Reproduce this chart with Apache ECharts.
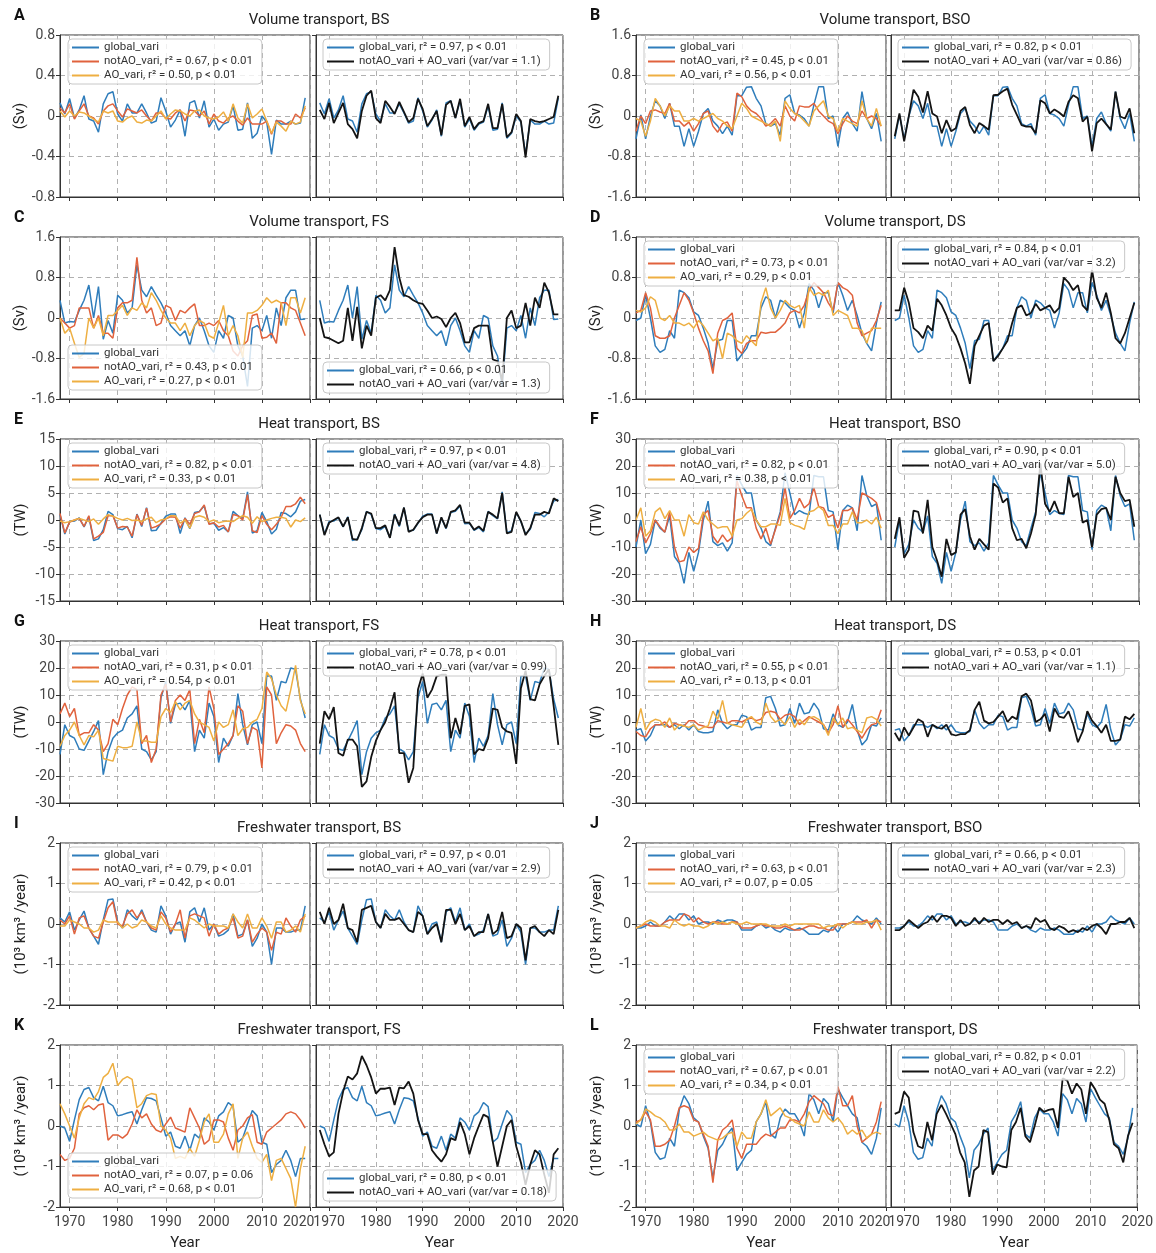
<!DOCTYPE html>
<html>
<head>
<meta charset="utf-8">
<script src="https://cdn.jsdelivr.net/npm/echarts@6/dist/echarts.min.js"></script>
<style>
  html, body { margin: 0; padding: 0; background: #fff; }
  #chart { width: 1156px; height: 1253px; }
</style>
</head>
<body>
<div id="chart"></div>
<script>
// years of the annual series
const years = [1968,1969,1970,1971,1972,1973,1974,1975,1976,1977,1978,1979,
  1980,1981,1982,1983,1984,1985,1986,1987,1988,1989,
  1990,1991,1992,1993,1994,1995,1996,1997,1998,1999,
  2000,2001,2002,2003,2004,2005,2006,2007,2008,2009,
  2010,2011,2012,2013,2014,2015,2016,2017,2018,2019];
const decadeTicks = [1970, 1980, 1990, 2000, 2010, 2020];

// A: volume transport, BS (Sv)
const A_global = [0.13,0.02,0.17,-0.02,0.06,0.2,-0.03,-0.05,-0.16,0.12,0.22,0.24, 0.02,-0.05,0.12,0.03,0.03,0.12,0.03,-0.07,-0.05,0.18, 0.05,-0.11,-0.04,0.06,-0.2,0.13,0.15,-0.02,0.15,-0.11, -0.03,-0.14,-0.08,-0.06,0.1,-0.14,-0.13,0.13,-0.22,-0.17, 0.0,-0.06,-0.38,-0.04,-0.08,-0.08,-0.05,-0.08,-0.07,0.18];
const A_notAO = [0.08,0.03,0.12,-0.03,0.05,0.12,0.0,-0.02,-0.08,0.05,0.1,0.12, 0.05,-0.01,0.07,0.05,0.03,0.06,0.0,-0.05,0.03,0.03, -0.02,-0.03,0.03,0.06,-0.05,0.06,0.05,0.0,0.05,-0.08, 0.02,-0.05,-0.07,-0.02,0.0,-0.05,-0.09,-0.02,-0.08,-0.08, -0.08,-0.05,-0.18,-0.05,-0.05,-0.08,-0.08,0.02,-0.02,0.08];
const A_AO = [0.05,-0.01,0.05,0.0,0.04,0.03,0.0,-0.03,-0.06,0.05,0.03,0.05, -0.05,-0.06,-0.02,0.0,-0.06,-0.07,-0.04,-0.05,0.0,0.05, -0.03,0.02,0.06,0.05,0.02,0.0,0.05,0.06,0.0,-0.02, -0.03,-0.01,0.04,-0.05,0.12,-0.02,-0.07,0.12,-0.02,0.02, 0.07,-0.05,-0.17,-0.06,-0.1,-0.15,-0.05,-0.08,-0.06,0.1];
const A_sum = [0.06,-0.03,0.13,-0.07,0.03,0.13,-0.08,-0.13,-0.22,0.05,0.2,0.25, -0.02,-0.07,0.15,0.09,0.02,0.14,0.04,-0.06,-0.02,0.17, 0.07,-0.1,-0.03,0.05,-0.19,0.11,0.15,-0.02,0.17,-0.1, -0.01,-0.13,-0.07,-0.05,0.12,-0.12,-0.12,0.12,-0.21,-0.16, 0.02,-0.05,-0.41,-0.03,-0.05,-0.06,-0.05,-0.03,-0.01,0.2];

// B: volume transport, BSO (Sv)
const B_global = [-0.45,0.02,-0.45,0.0,0.3,0.2,-0.05,0.25,-0.2,-0.2,-0.6,-0.25, -0.6,-0.3,0.05,0.15,-0.1,-0.2,-0.35,-0.2,-0.38,0.4, 0.4,0.57,0.58,0.35,0.2,-0.15,-0.2,-0.15,-0.38,0.35, 0.42,0.05,0.02,-0.05,-0.2,0.22,0.58,0.58,-0.05,0.0, -0.6,-0.05,0.08,-0.15,-0.3,0.48,-0.05,-0.25,0.05,-0.5];
const B_notAO = [-0.3,0.0,-0.15,0.1,0.12,0.08,0.05,0.25,-0.1,-0.1,-0.2,-0.12, -0.3,-0.15,0.05,0.1,-0.2,-0.32,-0.15,-0.12,-0.3,0.45, 0.38,0.2,0.1,0.05,-0.05,-0.2,-0.15,-0.05,-0.2,0.2, 0.0,-0.1,0.2,0.18,0.18,0.25,0.1,0.0,-0.1,-0.15, -0.35,-0.15,0.0,-0.1,-0.15,0.1,-0.05,0.0,-0.05,-0.2];
const B_AO = [-0.05,-0.1,-0.4,-0.1,0.35,0.2,0.0,0.2,0.1,0.1,-0.1,-0.1, -0.05,-0.1,-0.05,0.0,0.05,-0.05,-0.1,-0.2,-0.25,0.0, 0.25,0.15,0.0,-0.05,-0.1,-0.15,-0.2,-0.1,-0.5,0.3, 0.15,0.05,0.0,-0.1,-0.2,0.1,0.2,0.3,0.0,-0.05, -0.3,-0.05,-0.1,-0.15,-0.2,0.3,-0.05,-0.2,0.15,-0.2];
const B_sum = [-0.4,0.05,-0.5,0.0,0.52,0.38,0.07,0.49,0.05,-0.01,-0.34,-0.08, -0.3,-0.24,0.1,0.18,-0.18,-0.34,-0.14,-0.2,-0.27,0.41, 0.42,0.49,0.54,0.22,0.02,-0.18,-0.21,-0.21,-0.34,0.31, 0.25,0.05,0.13,0.07,-0.01,0.28,0.41,0.35,-0.11,-0.01, -0.7,-0.14,-0.05,-0.16,-0.27,0.48,-0.01,-0.05,0.15,-0.34];

// C: volume transport, FS (Sv)
const C_global = [0.35,-0.1,-0.07,-0.08,0.15,0.35,0.65,0.0,0.62,-0.42,-0.05,-0.3, 0.45,0.35,0.1,0.2,1.05,0.55,0.42,0.62,0.45,0.3, 0.1,-0.15,-0.25,-0.35,-0.25,-0.55,-0.15,0.0,-0.25,-0.55, -0.68,-0.25,-0.4,0.05,0.0,-0.55,-0.75,-1.35,-0.2,-0.15, -0.25,0.05,-0.4,0.2,-0.15,0.4,0.55,0.55,-0.03,-0.02];
const C_notAO = [0.0,-0.1,-0.2,-0.15,0.2,0.2,0.2,-0.2,0.05,-0.3,-0.3,-0.4, 0.2,0.3,0.3,0.35,1.2,0.35,0.1,0.2,-0.15,-0.1, 0.25,0.2,-0.05,0.15,0.1,0.2,0.28,-0.15,-0.15,-0.1, -0.15,-0.05,-0.25,-0.35,-0.65,-0.75,-0.55,-0.45,0.05,0.08, -0.4,-0.38,-0.3,-0.5,0.3,0.3,0.2,0.15,-0.1,-0.35];
const C_AO = [0.0,-0.3,-0.2,-0.5,-0.78,-0.7,0.0,-0.2,0.0,-0.35,0.05,0.05, 0.15,0.25,0.05,0.2,0.15,0.3,0.2,0.5,0.35,0.15, 0.0,-0.1,-0.1,-0.25,-0.1,-0.35,-0.15,-0.05,-0.1,-0.35, -0.4,-0.1,0.25,-0.35,-0.15,-0.35,-0.78,0.1,0.1,0.15, 0.25,0.4,0.3,0.35,0.3,-0.15,0.4,0.4,0.1,0.4];
const C_sum = [0.0,-0.38,-0.4,-0.45,-0.5,-0.45,0.2,-0.45,0.22,-0.6,-0.15,-0.35, 0.4,0.45,0.35,0.55,1.4,0.8,0.45,0.42,0.35,0.3, 0.28,0.15,0.0,0.03,-0.02,-0.18,0.0,0.1,-0.1,-0.48, -0.48,-0.2,-0.15,-0.15,-0.15,-0.82,-0.85,-1.25,0.0,0.15, -0.2,-0.15,0.3,-0.15,0.4,0.2,0.7,0.5,0.07,0.07];

// D: volume transport, DS (Sv)
const D_global = [-0.05,0.0,0.45,0.0,-0.55,-0.68,-0.62,-0.25,-0.4,0.55,0.5,0.4, 0.12,0.05,-0.2,-0.5,-1.0,-0.45,-0.42,-0.05,-0.05,-0.85, -0.72,-0.6,-0.35,-0.35,0.2,0.42,0.35,0.0,0.35,0.3, 0.2,0.15,-0.2,0.1,0.68,0.55,0.2,0.5,0.5,0.1, 0.7,0.45,0.15,0.35,0.05,-0.3,-0.5,-0.65,-0.1,0.32];
const D_notAO = [0.1,0.15,0.5,0.2,-0.35,-0.4,-0.4,-0.35,0.0,0.25,0.5,0.35, 0.1,-0.2,-0.45,-0.65,-1.1,-0.3,-0.05,0.0,0.1,-0.6, -0.7,-0.5,-0.45,-0.45,-0.28,-0.3,-0.28,-0.28,-0.2,-0.1, 0.1,0.15,0.1,0.25,0.55,0.7,0.6,0.5,0.3,0.15, 0.7,0.6,0.55,0.45,-0.1,-0.35,-0.3,-0.25,-0.05,0.25];
const D_AO = [0.15,0.12,0.2,0.42,0.35,0.0,-0.05,0.05,-0.1,-0.1,-0.15,-0.1, -0.2,-0.05,-0.15,-0.3,-0.45,-0.4,-0.8,-0.3,-0.35,-0.45, -0.5,-0.35,-0.45,-0.55,0.3,0.6,0.2,0.0,0.15,0.35, 0.25,0.2,0.25,-0.2,0.6,0.45,0.5,0.45,0.55,0.05, 0.15,0.1,0.05,-0.2,-0.2,-0.25,-0.5,-0.2,-0.2,-0.2];
const D_sum = [0.15,0.15,0.6,0.3,-0.2,-0.28,-0.4,-0.15,-0.25,0.38,0.25,0.05, -0.2,-0.35,-0.6,-0.9,-1.3,-0.55,-0.35,-0.15,-0.1,-0.85, -0.75,-0.6,-0.45,-0.1,0.2,0.25,0.05,0.1,0.28,0.15, 0.2,0.25,0.1,0.2,0.8,0.7,0.55,0.65,0.25,0.15, 0.95,0.4,0.2,0.5,0.1,-0.4,-0.5,-0.3,0.0,0.3];

// E: heat transport, BS (TW)
const E_global = [1.0,-2.6,-0.3,-0.2,0.4,-1.3,0.6,-3.8,-3.5,-1.8,1.6,1.0, -1.6,-1.8,-1.2,-3.3,1.1,-1.2,2.3,-2.0,-1.9,-0.6, 0.7,1.1,1.1,-2.5,0.4,-1.6,1.4,1.6,2.6,-0.7, -0.6,-1.9,-1.4,-2.2,1.6,0.8,0.2,5.2,-2.4,-2.0, 1.4,-0.3,-2.6,-1.7,1.4,1.2,0.6,1.5,3.5,3.8];
const E_notAO = [1.2,-2.4,-0.4,0.0,0.3,-1.2,0.8,-3.5,-3.0,-2.3,0.8,0.8, -1.5,-1.2,-1.3,-3.0,1.0,-1.0,2.2,-1.5,-1.2,-0.7, 0.2,0.6,0.5,-1.5,0.3,-0.8,1.2,1.5,2.8,-0.8, -0.5,-1.3,-1.0,-2.2,1.0,0.8,0.0,4.7,-2.0,-2.3, 0.8,-0.8,-1.8,-0.8,0.5,2.5,2.5,3.0,4.2,3.0];
const E_AO = [-0.2,-0.5,-0.3,0.0,0.3,0.0,-0.3,0.2,-0.8,0.2,1.0,0.7, 0.3,0.0,0.3,-0.1,0.0,-0.3,0.2,0.5,-0.5,0.0, 0.2,0.8,0.8,-0.6,0.0,-1.5,0.5,0.8,0.5,-0.3, 0.0,-0.5,-0.3,-0.2,-0.3,0.3,0.8,0.5,-0.6,0.6, -0.3,0.0,0.3,0.5,0.5,0.3,-1.3,0.0,-0.3,0.4];
const E_sum = [1.0,-2.8,-0.5,0.0,0.5,-1.2,0.5,-3.5,-3.7,-1.5,1.5,1.2, -1.5,-1.5,-1.0,-3.3,1.0,-1.0,2.3,-2.2,-1.8,-0.5, 0.5,1.0,1.0,-2.5,0.5,-1.5,1.5,1.8,2.8,-0.5, -0.5,-1.8,-1.2,-2.0,1.5,1.0,0.3,5.0,-2.5,-2.2, 1.5,-0.2,-2.8,-1.5,1.0,1.0,1.5,1.2,4.0,3.5];

// F: heat transport, BSO (TW)
const F_global = [-10,0,-12.5,-9,0,-3,-4.5,1.5,-13.5,-16,-23.5,-12, -19,-12,0,7,-8,-9.5,-8.5,-11.5,-8.5,16.5, 13,10,10,0,-3,-8,-9.5,-3,3,17.5, 10,2,3.5,2.5,2,16.5,16,16,3.5,3, -11,3.5,5.5,4.5,-4,16.5,9,5,6,-7.5];
const F_notAO = [-8,-2.5,-8.5,-5,0,-2.5,-4.5,3,-10,-15.5,-15,-10, -12,-10.5,2,3.5,-6,-8.5,-5.5,-8,-6.5,14.5, 9,4.5,4.5,-3,-7,-3,-9,-3.5,2,12, 0.5,3.5,8,4.5,6,12,5,4.5,1,2, -3,3.5,3.5,4.5,0,10,9,8,6.5,0];
const F_AO = [0,4.5,-6,-4,3,4.5,0.5,3.5,0,0,-6,2, -1,-1.5,3,0,-1.5,-3,-2.5,-2.5,-6,0, 0.5,2.5,4,0,-2.5,-2.5,-1.5,-1.5,-2,8, -1,-2,-2.5,-3.5,3,3.5,5,3.5,-2,-2, -5,-1.5,-1.5,3,-1,-1,0,-1.5,1,-3];
const F_sum = [-7,1,-14,-11,3.5,3,-5,7.5,-10,-15,-21,-7, -13,-12,2,4,-6,-11,-7,-9,-11,13.5, 12,6.5,8,-3,-7.5,-7,-10.5,-5,2,21, 6,3,7,2.5,2.5,16,8.5,10,-1,0, -10,2,4,4.5,0,16,10,7,7.5,-2.5];

// G: heat transport, FS (TW)
const G_global = [-12,-1,-5,-6,-10,-10.5,-7,-3.5,0.5,-19.5,-11,-6, -4,-3,1.5,3,6,-10,-11,-14,-11,9, 15,-0.5,6.5,7,4.5,8,-11,-3,-6,7, 2,-15,-6,-9,-5,10.5,-1,-8.5,-1,0, -8,17,17,8,15,14.5,20,19.5,8.5,1.5];
const G_notAO = [3,7,2,5,-5,-4,-4,-1,-3,-11,-8,1, -1,5,10,13,12,-8,-5,-15,-10,10, 14,0,8,10,8,12,-8,1,-4,13, 5,-12,-10,-8,-5,6,4,-8,-2,-3, -17,13,10,-8,-4,-1,-1.5,-3,-8,-11];
const G_AO = [-9,-5,-3,0,-5,-8.5,-5,-5.5,-3,-13.5,-14,-14.5, -9,-9.5,-9.5,-9,0,-7,-7,-7.5,-7.5,2, 5,3.5,7.5,4.5,7,8,3,0,-1,-2, -7,0,-2,-1,4.5,-5,-2.5,-2,0,1, 5,18.5,16,10,6,4,12,21,8,3];
const G_sum = [-8,4,1,5.5,-11.5,-12.5,-6.5,-6.5,-9,-24,-22,-13, -7,-3,0,5,11,-11.5,-11.5,-22.5,-17,12, 18,9,12,17,17.5,17.5,-6,1.5,-4.5,6, 6.5,-12,-10,-10.5,-6,5,4.5,-2,-3.5,-4, -15.5,12.5,19,8.5,8,14,17,19.5,6,-8.5];

// H: heat transport, DS (TW)
const H_global = [-3,-2.5,-7,-5,-1,-1,-1,-2,-1,-2.5,-1,-3, -1,-3.5,-4,-4,-3.5,4.5,-0.5,-2.5,-1,-1, 2.5,2,-3,-2,-2,9,9.5,5,-1.5,-1, 5,-0.5,7,3,3.5,7,4.5,-2.5,-3,3, -1,-2,0,6.5,-3,-8.5,-6.5,-1,-1.5,1.5];
const H_notAO = [-3.5,-5,-5.5,-2.5,-1,-1,0,-2,-0.5,-1,-1.5,0.5, 0.5,-1,-1.5,-2,-2,0.5,0,-0.5,0.5,0.5, 0,1,1.5,0.5,1,3.5,4,3.5,1,2.5, 3,2,-1,0.5,2,1,0,-1,-4,-1, 6,-2,1,-1,-3.5,-6,-3,-1,-0.5,4.5];
const H_AO = [-2,5,-3,0,1,0.5,-2,1.5,-3,-1,-1.5,-2, -1,-3,-2,-1.5,4,1,8,-0.5,-1,-1.5, -2,1,2,0,-1,7,2,0,1,-1, 2,-2,1,-1,1.5,2,1,-1,-5,1.5, -1,1.5,-2.5,-2,-3,-4,1.5,2,1,-1.5];
const H_sum = [-4,-7,-2,-5,-2,1,0,-5.5,-1,-2,-2.5,-1, -4.5,-5,-4.5,-4.5,-3,4.5,7.5,0.5,-0.5,0, 2,4,0,2,1,9.5,10.5,8,0,1, 3,-3.5,5,2,1.5,4,-1,-7.5,-3.5,4, 0.5,-1.5,-4,-1,-7,-7,-6.5,2,1,3];

// I: freshwater transport, BS (10^3 km^3/year)
const I_global = [0.15,0.05,0.3,-0.15,0.1,0.32,-0.1,-0.3,-0.5,0.1,0.6,0.62, 0.05,-0.1,0.35,0.2,0.1,0.35,0.05,-0.15,-0.2,0.45, 0.2,-0.25,0.0,0.05,-0.45,0.3,0.4,0.05,0.4,-0.15, 0.0,-0.3,-0.25,-0.15,0.25,-0.3,-0.25,0.1,-0.55,-0.35, 0.0,-0.2,-1.0,-0.1,-0.1,-0.2,-0.2,-0.15,-0.15,0.45];
const I_notAO = [0.1,0.0,0.2,-0.25,0.15,0.2,-0.1,-0.3,-0.35,0.05,0.4,0.55, 0.0,-0.05,0.25,0.35,0.15,0.3,0.05,-0.1,-0.15,0.3, 0.15,-0.2,0.0,0.35,-0.35,0.2,0.25,0.2,0.15,-0.3, 0.0,-0.25,-0.15,-0.1,0.15,-0.35,-0.3,0.1,-0.45,-0.25, -0.1,-0.2,-0.65,-0.2,-0.25,0.15,-0.05,-0.2,0.1,0.2];
const I_AO = [-0.05,-0.05,0.1,0.05,0.0,-0.1,-0.1,-0.2,-0.15,0.1,0.05,0.05, 0.05,-0.1,0.0,-0.1,-0.05,0.1,0.05,-0.05,-0.1,0.2, 0.0,-0.1,-0.15,-0.15,-0.15,0.15,0.1,0.0,-0.1,0.0, -0.05,-0.05,-0.05,-0.1,0.25,0.05,-0.1,0.25,-0.1,-0.1, 0.15,-0.05,-0.35,0.05,0.05,-0.2,-0.15,-0.05,-0.2,0.25];
const I_sum = [0.3,0.0,0.4,0.0,0.1,0.5,-0.1,-0.15,-0.45,0.35,0.4,0.45, 0.05,-0.1,0.25,0.1,0.1,0.15,0.0,-0.15,-0.2,0.3, 0.2,-0.25,-0.1,0.0,-0.45,0.35,0.35,0.0,0.25,-0.15, -0.05,-0.3,-0.2,-0.2,0.25,-0.25,-0.15,0.3,-0.35,-0.3, 0.0,-0.1,-0.9,-0.1,-0.05,-0.2,-0.3,-0.15,-0.25,0.35];

// J: freshwater transport, BSO
const J_global = [-0.1,-0.1,-0.05,0.05,-0.05,-0.05,0.05,0.2,0.1,0.25,0.25,0.1, 0.2,0.0,0.05,0.05,0.0,0.1,0.05,0.1,0.1,0.05, -0.15,-0.15,-0.15,-0.05,0.0,-0.1,-0.05,-0.15,-0.2,-0.1, -0.15,-0.15,-0.1,-0.15,-0.25,-0.25,-0.25,-0.15,-0.2,-0.05, -0.2,0.0,0.0,0.05,0.2,0.1,0.05,0.0,0.15,0.0];
const J_notAO = [-0.1,-0.05,0.0,-0.05,-0.05,-0.05,0.05,0.1,0.1,0.1,0.25,0.2, 0.05,0.15,0.05,0.0,0.05,0.05,0.0,0.0,0.05,0.05, -0.1,-0.1,-0.1,-0.05,0.0,-0.05,-0.05,-0.1,-0.1,-0.05, -0.1,-0.15,-0.15,-0.1,-0.05,-0.05,-0.1,-0.1,-0.15,-0.15, 0.0,0.0,0.0,0.05,0.05,0.05,0.1,-0.1,0.1,0.05];
const J_AO = [-0.1,-0.05,0.05,0.1,0.05,-0.05,-0.05,-0.1,0.1,0.0,-0.05,0.0, -0.05,-0.05,-0.1,-0.05,0.05,0.0,0.05,0.0,0.05,0.0, 0.0,0.05,0.0,0.0,0.0,0.0,-0.05,-0.05,-0.05,0.0, -0.05,0.0,0.0,0.0,0.0,0.0,0.0,-0.1,-0.05,-0.05, 0.0,-0.1,0.0,0.05,0.0,0.0,0.05,0.05,0.1,-0.15];
const J_sum = [-0.15,-0.15,-0.05,0.1,0.0,-0.1,0.0,0.05,0.2,0.05,0.2,0.2, 0.15,-0.05,0.1,-0.05,0.0,0.15,0.0,0.15,0.05,0.1, 0.1,0.0,0.1,0.0,0.05,-0.1,-0.05,-0.1,0.15,0.05, 0.1,-0.1,-0.15,-0.05,-0.1,-0.2,-0.15,-0.2,-0.1,-0.15, -0.05,0.0,-0.1,-0.25,0.0,0.0,0.05,0.05,0.15,-0.1];

// K: freshwater transport, FS
const K_global = [0.0,-0.05,-0.38,0.15,0.65,0.9,0.95,0.7,0.62,0.98,0.58,0.5, 0.25,0.28,0.32,0.35,0.05,0.4,0.7,0.68,0.62,0.2, -0.25,-0.15,-0.5,-0.55,-0.25,-0.6,-0.2,-0.3,0.2,0.1, -0.1,0.25,0.35,0.58,0.48,-0.4,-0.3,0.05,0.38,0.25, -0.4,-0.45,-1.15,-0.95,-0.85,-0.6,-0.85,-1.25,-0.8,-0.8];
const K_notAO = [-0.7,-0.85,-0.8,-0.55,0.3,0.45,0.5,0.4,0.52,0.55,-0.35,-0.22, -0.22,-0.3,-0.2,0.05,0.4,0.2,0.3,0.05,-0.1,-0.15, 0.05,0.22,-0.05,-0.1,-0.15,0.45,0.2,-0.05,-0.45,-0.35, 0.15,0.15,0.1,-0.3,-0.6,-0.1,0.0,0.2,0.28,-0.4, -0.45,-0.15,-0.05,0.05,0.15,0.3,0.35,0.3,0.15,-0.05];
const K_AO = [0.55,0.3,0.0,-0.3,0.2,0.55,0.7,0.65,0.85,1.2,1.3,1.55, 1.0,1.15,1.22,1.15,0.45,0.55,0.75,0.8,0.78,0.0, -0.1,-0.3,-0.8,-0.75,-0.8,-0.55,-0.75,-0.35,0.1,0.3, -0.4,-0.4,-0.2,0.3,0.55,-0.8,-0.3,-0.15,-0.5,-0.8, -0.9,-0.7,-1.35,-0.85,-0.8,-1.05,-1.3,-2.0,-1.05,-0.5];
const K_sum = [-0.1,-0.45,-0.75,-0.65,0.3,0.85,1.22,1.15,1.3,1.73,1.5,1.2, 0.8,0.92,0.92,0.95,0.52,0.95,0.93,1.1,0.8,0.15, -0.2,-0.2,-0.6,-0.75,-0.88,-0.7,-0.3,-0.35,0.1,-0.2, -0.7,-0.3,0.0,0.28,0.22,-0.4,-1.0,-0.5,0.0,0.15, -0.5,-0.9,-1.45,-0.95,-0.6,-0.7,-1.2,-1.65,-0.7,-0.55];

// L: freshwater transport, DS
const L_global = [0.05,-0.02,0.5,0.1,-0.65,-0.82,-0.78,-0.3,-0.5,0.4,0.75,0.55, 0.2,0.1,-0.25,-0.55,-1.28,-0.6,-0.45,-0.2,-0.05,-1.1, -0.9,-0.7,-0.6,0.1,0.3,0.6,-0.2,-0.3,0.2,0.42, 0.3,0.3,0.1,-0.25,0.8,0.65,0.3,0.68,0.55,0.1, 0.92,0.7,0.5,0.3,0.2,-0.4,-0.5,-0.7,-0.3,0.45];
const L_notAO = [0.1,0.15,0.35,0.15,-0.5,-0.5,-0.45,-0.35,0.0,0.45,0.5,0.45, 0.15,0.1,-0.2,-0.5,-1.4,-0.35,-0.1,0.0,0.15,-0.55, -0.8,-0.45,-0.45,-0.45,-0.3,-0.2,-0.25,-0.15,-0.05,-0.05, 0.15,0.15,0.1,0.3,0.6,0.75,0.65,0.55,0.3,0.25, 0.98,0.5,0.5,0.75,0.0,-0.4,-0.3,-0.2,0.1,0.6];
const L_AO = [0.05,0.15,0.42,0.35,0.25,0.2,0.1,-0.1,-0.1,0.05,-0.15,-0.15, -0.25,-0.2,-0.15,-0.25,-0.3,-0.35,-0.3,-0.2,-0.15,-0.5, -0.15,-0.3,-0.3,0.1,0.3,0.65,0.25,0.35,0.45,0.25, 0.2,0.1,0.05,0.0,0.35,0.1,0.1,0.4,0.2,0.1, 0.2,0.05,-0.2,-0.1,-0.2,-0.1,-0.3,-0.2,-0.15,-0.2];
const L_sum = [0.3,0.35,0.85,0.7,-0.15,-0.5,-0.55,0.1,-0.35,0.3,0.52,0.3, 0.05,-0.2,-0.65,-0.9,-1.75,-1.1,-1.0,-0.1,-0.15,-1.2, -0.95,-1.0,-1.02,-0.1,0.1,0.45,-0.25,-0.4,0.0,0.45, 0.35,0.4,0.42,-0.05,1.18,1.12,0.8,1.05,0.9,0.3, 1.08,0.9,0.65,0.55,0.15,-0.45,-0.55,-0.9,-0.25,0.08];

const VOL = '(Sv)', HEAT = '(TW)', FW = '(10³ km³ /year)';
const panels = [
  { id: 'A', title: 'Volume transport, BS', unit: VOL, min: -0.8, max: 0.8, step: 0.4, data: [A_global, A_notAO, A_AO, A_sum],
    left: ['global_vari', 'notAO_vari, r² = 0.67, p < 0.01', 'AO_vari, r² = 0.50, p < 0.01'],
    right: ['global_vari, r² = 0.97, p < 0.01', 'notAO_vari + AO_vari (var/var = 1.1)'] },
  { id: 'B', title: 'Volume transport, BSO', unit: VOL, min: -1.6, max: 1.6, step: 0.8, data: [B_global, B_notAO, B_AO, B_sum],
    left: ['global_vari', 'notAO_vari, r² = 0.45, p < 0.01', 'AO_vari, r² = 0.56, p < 0.01'],
    right: ['global_vari, r² = 0.82, p < 0.01', 'notAO_vari + AO_vari (var/var = 0.86)'] },
  { id: 'C', title: 'Volume transport, FS', unit: VOL, min: -1.6, max: 1.6, step: 0.8, data: [C_global, C_notAO, C_AO, C_sum], low: true,
    left: ['global_vari', 'notAO_vari, r² = 0.43, p < 0.01', 'AO_vari, r² = 0.27, p < 0.01'],
    right: ['global_vari, r² = 0.66, p < 0.01', 'notAO_vari + AO_vari (var/var = 1.3)'] },
  { id: 'D', title: 'Volume transport, DS', unit: VOL, min: -1.6, max: 1.6, step: 0.8, data: [D_global, D_notAO, D_AO, D_sum],
    left: ['global_vari', 'notAO_vari, r² = 0.73, p < 0.01', 'AO_vari, r² = 0.29, p < 0.01'],
    right: ['global_vari, r² = 0.84, p < 0.01', 'notAO_vari + AO_vari (var/var = 3.2)'] },
  { id: 'E', title: 'Heat transport, BS', unit: HEAT, min: -15, max: 15, step: 5, data: [E_global, E_notAO, E_AO, E_sum],
    left: ['global_vari', 'notAO_vari, r² = 0.82, p < 0.01', 'AO_vari, r² = 0.33, p < 0.01'],
    right: ['global_vari, r² = 0.97, p < 0.01', 'notAO_vari + AO_vari (var/var = 4.8)'] },
  { id: 'F', title: 'Heat transport, BSO', unit: HEAT, min: -30, max: 30, step: 10, data: [F_global, F_notAO, F_AO, F_sum],
    left: ['global_vari', 'notAO_vari, r² = 0.82, p < 0.01', 'AO_vari, r² = 0.38, p < 0.01'],
    right: ['global_vari, r² = 0.90, p < 0.01', 'notAO_vari + AO_vari (var/var = 5.0)'] },
  { id: 'G', title: 'Heat transport, FS', unit: HEAT, min: -30, max: 30, step: 10, data: [G_global, G_notAO, G_AO, G_sum],
    left: ['global_vari', 'notAO_vari, r² = 0.31, p < 0.01', 'AO_vari, r² = 0.54, p < 0.01'],
    right: ['global_vari, r² = 0.78, p < 0.01', 'notAO_vari + AO_vari (var/var = 0.99)'] },
  { id: 'H', title: 'Heat transport, DS', unit: HEAT, min: -30, max: 30, step: 10, data: [H_global, H_notAO, H_AO, H_sum],
    left: ['global_vari', 'notAO_vari, r² = 0.55, p < 0.01', 'AO_vari, r² = 0.13, p < 0.01'],
    right: ['global_vari, r² = 0.53, p < 0.01', 'notAO_vari + AO_vari (var/var = 1.1)'] },
  { id: 'I', title: 'Freshwater transport, BS', unit: FW, min: -2, max: 2, step: 1, data: [I_global, I_notAO, I_AO, I_sum],
    left: ['global_vari', 'notAO_vari, r² = 0.79, p < 0.01', 'AO_vari, r² = 0.42, p < 0.01'],
    right: ['global_vari, r² = 0.97, p < 0.01', 'notAO_vari + AO_vari (var/var = 2.9)'] },
  { id: 'J', title: 'Freshwater transport, BSO', unit: FW, min: -2, max: 2, step: 1, data: [J_global, J_notAO, J_AO, J_sum],
    left: ['global_vari', 'notAO_vari, r² = 0.63, p < 0.01', 'AO_vari, r² = 0.07, p = 0.05'],
    right: ['global_vari, r² = 0.66, p < 0.01', 'notAO_vari + AO_vari (var/var = 2.3)'] },
  { id: 'K', title: 'Freshwater transport, FS', unit: FW, min: -2, max: 2, step: 1, data: [K_global, K_notAO, K_AO, K_sum], low: true,
    left: ['global_vari', 'notAO_vari, r² = 0.07, p = 0.06', 'AO_vari, r² = 0.68, p < 0.01'],
    right: ['global_vari, r² = 0.80, p < 0.01', 'notAO_vari + AO_vari (var/var = 0.18)'] },
  { id: 'L', title: 'Freshwater transport, DS', unit: FW, min: -2, max: 2, step: 1, data: [L_global, L_notAO, L_AO, L_sum],
    left: ['global_vari', 'notAO_vari, r² = 0.67, p < 0.01', 'AO_vari, r² = 0.34, p < 0.01'],
    right: ['global_vari, r² = 0.82, p < 0.01', 'notAO_vari + AO_vari (var/var = 2.2)'] }
];

const COL_GLOBAL = '#2f7dbb', COL_NOTAO = '#e0623d', COL_AO = '#eeaf42', COL_SUM = '#141414';
const FONT = 'Roboto, "DejaVu Sans", sans-serif';
const rowTop = [35, 237, 439, 641, 843, 1045];
const gridH = 162;
// [left, width, x-min] of the two sub-axes for each figure column
const cols = [[[60, 250, 1968], [316, 247, 1967.2]], [[636, 250, 1968], [891, 248, 1967.2]]];
const titleX = [319, 895];

const chart = echarts.init(document.getElementById('chart'));

const grid = [], xAxis = [], yAxis = [], series = [], legend = [], graphic = [];
const dashed = { type: [5, 4], color: '#b0b0b0', width: 1 };

panels.forEach((p, pi) => {
  const row = Math.floor(pi / 2), col = pi % 2;
  const top = rowTop[row];
  const lastRow = row === 5;

  graphic.push({ type: 'text', x: cols[col][0][0] - 46, y: top - 27,
    style: { text: p.id, font: 'bold 16px ' + FONT, fill: '#111' } });
  graphic.push({ type: 'text', x: titleX[col], y: top - 22,
    style: { text: p.title, font: '15px ' + FONT, fill: '#222', textAlign: 'center' } });

  cols[col].forEach(([left, width, xMin], side) => {
    const gi = grid.length;
    grid.push({ left, top, width, height: gridH, show: true, borderColor: '#333', borderWidth: 1 });
    xAxis.push({
      gridIndex: gi, type: 'value', min: xMin, max: 2020,
      axisLine: { show: true, onZero: false, lineStyle: { color: '#333' } },
      axisTick: { show: true, length: 4, customValues: decadeTicks, lineStyle: { color: '#333' } },
      axisLabel: { show: lastRow, customValues: decadeTicks, fontSize: 14, color: '#444', margin: 8,
        fontFamily: FONT,
        // the last label of a left sub-axis sits a little inside, as in the figure
        formatter: v => (side === 0 && v === 2020) ? '{edge|2020}' : String(v),
        rich: { edge: { width: 54, align: 'left', fontSize: 14, color: '#444', fontFamily: FONT } } },
      splitLine: { show: true, lineStyle: dashed },
      name: lastRow ? 'Year' : '', nameLocation: 'middle', nameGap: 29,
      nameTextStyle: { fontSize: 15, color: '#222', fontFamily: FONT }
    });
    yAxis.push({
      gridIndex: gi, type: 'value', min: p.min, max: p.max, interval: p.step,
      axisLine: { show: true, onZero: false, lineStyle: { color: '#333' } },
      axisTick: { show: true, length: 4, lineStyle: { color: '#333' } },
      axisLabel: { show: side === 0, fontSize: 14, color: '#444', margin: 5, fontFamily: FONT },
      splitLine: { show: true, lineStyle: dashed },
      name: side === 0 ? p.unit : '', nameLocation: 'middle', nameRotate: 90, nameGap: 31,
      nameTextStyle: { fontSize: 15, color: '#222', fontFamily: FONT }
    });

    const lines = side === 0
      ? [[p.left[0], p.data[0], COL_GLOBAL, 1.5], [p.left[1], p.data[1], COL_NOTAO, 1.5], [p.left[2], p.data[2], COL_AO, 1.5]]
      : [[p.right[0], p.data[0], COL_GLOBAL, 1.5], [p.right[1], p.data[3], COL_SUM, 1.8]];
    lines.forEach(([name, arr, color, w]) => {
      series.push({
        type: 'line', name, xAxisIndex: gi, yAxisIndex: gi, symbol: 'none', color,
        lineStyle: { color, width: w }, silent: true,
        data: years.map((y, i) => [y, arr[i]])
      });
    });

    const n = lines.length;
    const boxH = n * 13 + (n - 1) + 4;
    let lTop = top + 4;
    if (p.low) lTop = top + gridH - boxH - (side === 0 ? 9 : 6);
    legend.push({
      orient: 'vertical', left: left + (side === 0 ? 8 : 7), top: lTop,
      data: lines.map(l => l[0]), icon: 'rect', itemWidth: 27, itemHeight: 2, itemGap: 1,
      padding: [2, 9, 2, 4], selectedMode: false,
      borderColor: '#c8c8c8', borderWidth: 1, borderRadius: 4,
      backgroundColor: 'rgba(255,255,255,0.8)',
      textStyle: { fontSize: 11.5, lineHeight: 13, color: '#333', fontFamily: FONT }
    });
  });
});

chart.setOption({
  animation: false,
  backgroundColor: '#fff',
  grid, xAxis, yAxis, series, legend, graphic
});
</script>
</body>
</html>
